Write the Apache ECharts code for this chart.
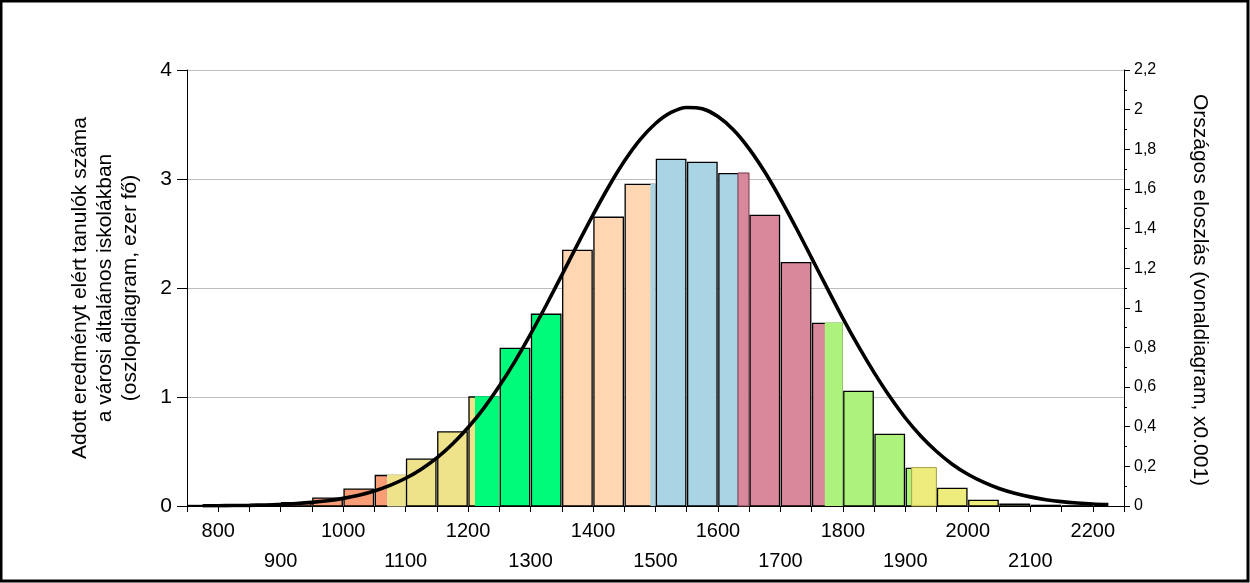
<!DOCTYPE html>
<html>
<head>
<meta charset="utf-8">
<script src="https://cdn.jsdelivr.net/npm/echarts@6/dist/echarts.min.js"></script>
<style>
  html, body { margin: 0; padding: 0; background: #fff; }
  #chart { width: 1250px; height: 583px; }
</style>
</head>
<body>
<div id="chart"></div>
<script>
// score bins (50 points wide), number of pupils in thousands
const binWidth = 50;
const binStarts = [750, 800, 850, 900, 950, 1000, 1050, 1100, 1150, 1200, 1250, 1300, 1350, 1400, 1450,
  1500, 1550, 1600, 1650, 1700, 1750, 1800, 1850, 1900, 1950, 2000, 2050, 2100, 2150];
const counts = [0.005, 0.008, 0.012, 0.03, 0.073, 0.155, 0.28, 0.43, 0.68, 1.0, 1.447, 1.759, 2.346, 2.649, 2.951,
  3.18, 3.153, 3.049, 2.667, 2.232, 1.676, 1.052, 0.658, 0.346, 0.162, 0.052, 0.016, 0.006, 0.002];

// colour bands along the score axis
const bandLimits = [1071, 1211, 1350, 1492, 1632, 1771, 1910];
const bandColors = ['#F99D77', '#EEE28A', '#00FA7A', '#FED7B2', '#A8D4E4', '#D8889A', '#ADF27C', '#EEEC7C'];
const overlayStroke = [null, '#E6DFA8', null, null, null, '#6E3848', null, '#A8A448'];

// national distribution (x0.001)
const curveX = [775, 800, 825, 850, 875, 900, 925, 950, 975, 1000, 1025, 1050, 1075, 1100, 1125, 1150, 1175,
  1200, 1225, 1250, 1275, 1300, 1325, 1350, 1375, 1400, 1425, 1450, 1475, 1500, 1525, 1550, 1575, 1600,
  1625, 1650, 1675, 1700, 1725, 1750, 1775, 1800, 1825, 1850, 1875, 1900, 1925, 1950, 1975, 2000, 2025,
  2050, 2075, 2100, 2125, 2150, 2175, 2200, 2225];
const curveY = [0.001, 0.0013, 0.0022, 0.0034, 0.0053, 0.0082, 0.0123, 0.0183, 0.0268, 0.0385, 0.0544, 0.0758,
  0.104, 0.14, 0.186, 0.243, 0.313, 0.396, 0.493, 0.605, 0.73, 0.867, 1.013, 1.165, 1.319, 1.469, 1.611,
  1.739, 1.847, 1.93, 1.986, 2.011, 2.004, 1.965, 1.897, 1.802, 1.685, 1.55, 1.404, 1.251, 1.098, 0.947,
  0.805, 0.673, 0.552, 0.444, 0.352, 0.275, 0.211, 0.16, 0.12, 0.088, 0.064, 0.046, 0.032, 0.022, 0.015,
  0.01, 0.007];

const xLabelsTop = [800, 1000, 1200, 1400, 1600, 1800, 2000, 2200];
const xLabelsBottom = [900, 1100, 1300, 1500, 1700, 1900, 2100];

const FONT = '"Liberation Sans", Arial, sans-serif';
const inset = 0.9;

function bandOf(v) {
  return bandLimits.filter(b => b <= v).length;
}

function renderBin(params, api) {
  const start = api.value(0);
  const h = api.value(1);
  const end = start + binWidth;
  const base = api.coord([start, 0]);
  const top = api.coord([start, h])[1];
  const xa = base[0] + inset;
  const xb = api.coord([end, 0])[0] - inset;
  const children = [{
    type: 'rect',
    shape: { x: xa, y: top, width: xb - xa, height: base[1] - top },
    style: { fill: bandColors[bandOf(start)], stroke: '#000', lineWidth: 1.3 }
  }];
  const cuts = bandLimits.filter(b => b > start && b < end);
  cuts.forEach((c, i) => {
    const xs = api.coord([c, 0])[0];
    const xe = i + 1 < cuts.length ? api.coord([cuts[i + 1], 0])[0] : xb + 0.7;
    const bi = bandOf(c);
    children.push({
      type: 'rect',
      shape: { x: xs, y: top - 0.7, width: xe - xs, height: base[1] - top + 0.7 },
      style: { fill: bandColors[bi], stroke: overlayStroke[bi], lineWidth: 1 }
    });
  });
  return { type: 'group', children: children };
}

const chart = echarts.init(document.getElementById('chart'), null, { renderer: 'canvas' });
chart.setOption({
  animation: false,
  backgroundColor: '#fff',
  grid: { left: 187, right: 126, top: 70, bottom: 77, containLabel: false, outerBoundsMode: 'none' },
  xAxis: {
    type: 'value',
    min: 750,
    max: 2250,
    interval: 50,
    axisLine: { show: true, onZero: false, lineStyle: { color: '#000', width: 1 } },
    axisTick: { show: true, length: 6, lineStyle: { color: '#000' } },
    splitLine: { show: false },
    axisLabel: {
      margin: 10,
      color: '#000',
      fontFamily: FONT,
      fontSize: 20,
      lineHeight: 30,
      formatter: function (v) {
        if (xLabelsTop.indexOf(v) >= 0) return String(v);
        if (xLabelsBottom.indexOf(v) >= 0) return '\n' + v;
        return '';
      }
    }
  },
  yAxis: [{
    type: 'value',
    min: 0,
    max: 4,
    interval: 1,
    axisLine: { show: true, lineStyle: { color: '#000', width: 1 } },
    axisTick: { show: true, length: 10, lineStyle: { color: '#000' } },
    axisLabel: { margin: 15, color: '#000', fontFamily: FONT, fontSize: 21 },
    splitLine: { show: true, lineStyle: { color: '#BEBEBE', width: 1 } }
  }, {
    type: 'value',
    position: 'right',
    min: 0,
    max: 2.2,
    interval: 0.2,
    axisLine: { show: true, lineStyle: { color: '#000', width: 1 } },
    axisTick: { show: true, length: 6, lineStyle: { color: '#000' } },
    minorTick: { show: true, splitNumber: 2, length: 3, lineStyle: { color: '#000' } },
    axisLabel: {
      margin: 10, color: '#000', fontFamily: FONT, fontSize: 16,
      formatter: function (v) { return String(Math.round(v * 10) / 10).replace('.', ','); }
    },
    splitLine: { show: false }
  }],
  series: [{
    type: 'custom',
    xAxisIndex: 0,
    yAxisIndex: 0,
    renderItem: renderBin,
    encode: { x: 0, y: 1 },
    data: binStarts.map((s, i) => [s, counts[i]]),
    z: 2
  }, {
    type: 'line',
    xAxisIndex: 0,
    yAxisIndex: 1,
    smooth: 0.3,
    symbol: 'none',
    lineStyle: { color: '#000', width: 3.6 },
    data: curveX.map((x, i) => [x, curveY[i]]),
    z: 3
  }],
  graphic: [{
    type: 'text',
    x: 105,
    y: 288,
    rotation: Math.PI / 2,
    style: {
      text: 'Adott eredményt elért tanulók száma\na városi általános iskolákban\n(oszlopdiagram, ezer fő)',
      fontFamily: FONT,
      fontSize: 21,
      lineHeight: 25,
      align: 'center',
      verticalAlign: 'middle',
      fill: '#000'
    }
  }, {
    type: 'text',
    x: 1200,
    y: 290,
    rotation: -Math.PI / 2,
    style: {
      text: 'Országos eloszlás (vonaldiagram, x0.001)',
      fontFamily: FONT,
      fontSize: 21,
      align: 'center',
      verticalAlign: 'middle',
      fill: '#000'
    }
  }, {
    type: 'rect',
    shape: { x: 1, y: 1, width: 1247, height: 580 },
    style: { fill: null, stroke: '#000', lineWidth: 3 },
    silent: true
  }]
});
</script>
</body>
</html>
